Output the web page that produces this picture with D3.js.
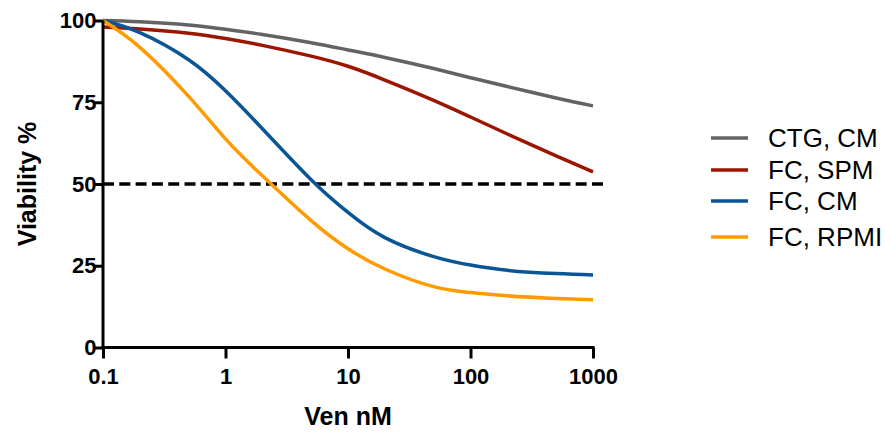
<!DOCTYPE html>
<html>
<head>
<meta charset="utf-8">
<script src="https://cdn.jsdelivr.net/npm/d3@7"></script>
<style>
  html, body { margin: 0; padding: 0; background: #fff; }
  svg { display: block; }
  text { font-family: "Liberation Sans", Arial, Helvetica, sans-serif; }
</style>
</head>
<body>
<svg id="chart" width="885" height="432"></svg>
<script>
// ---- data ----
const doses = [0.1, 0.2, 0.5, 1, 2, 5, 10, 20, 50, 100, 200, 500, 1000];
const seriesNames = ["CTG, CM", "FC, SPM", "FC, CM", "FC, RPMI"];
const ctgCM   = [100, 99.6, 98.6, 97.3, 95.7, 93.2, 91.0, 88.7, 85.3, 82.5, 79.8, 76.3, 73.9];
const fcSPM   = [98.0, 97.4, 96.1, 94.5, 92.4, 89.1, 86.0, 81.8, 75.6, 70.5, 65.3, 58.6, 53.7];
const fcCM    = [100, 96.3, 88.0, 78.5, 66.9, 51.3, 41.3, 33.6, 27.8, 25.2, 23.6, 22.6, 22.2];
const fcRPMI  = [100, 91.8, 76.8, 63.8, 52.5, 38.8, 30.2, 24.0, 18.6, 16.8, 15.8, 15.0, 14.6];
const yTicks = [0, 25, 50, 75, 100];
const xTicks = [0.1, 1, 10, 100, 1000];
const xTickLabels = ["0.1", "1", "10", "100", "1000"];
const refLevel = 50;
const xTitle = "Ven nM";
const yTitle = "Viability %";

const colors = ["#636363", "#9b1500", "#0a5596", "#ff9b00"];
const seriesValues = [ctgCM, fcSPM, fcCM, fcRPMI];

// ---- layout ----
const svg = d3.select("#chart");
const x = d3.scaleLog().domain([0.1, 1000]).range([103, 593]);
const y = d3.scaleLinear().domain([0, 100]).range([347.5, 20.5]);

// reference dashed line
svg.append("line")
  .attr("x1", x(0.1)).attr("x2", 607)
  .attr("y1", y(refLevel)).attr("y2", y(refLevel))
  .attr("stroke", "#000").attr("stroke-width", 3.3)
  .attr("stroke-dasharray", "11,5.3");

// curves
const line = d3.line()
  .x(d => x(d[0]))
  .y(d => y(d[1]))
  .curve(d3.curveNatural);

seriesValues.forEach((vals, i) => {
  svg.append("path")
    .datum(doses.map((d, j) => [d, vals[j]]))
    .attr("fill", "none")
    .attr("stroke", colors[i])
    .attr("stroke-width", 3.5)
    .attr("stroke-linecap", "butt")
    .attr("d", line);
});

// axes
const yAxis = d3.axisLeft(y).tickValues(yTicks).tickSize(8).tickSizeOuter(0).tickPadding(-1.5);
const xAxis = d3.axisBottom(x).tickValues(xTicks).tickSize(11).tickSizeOuter(0).tickPadding(10)
  .tickFormat((d, i) => xTickLabels[i]);

const gy = svg.append("g").attr("transform", `translate(${x(0.1)},0)`).call(yAxis);
const gx = svg.append("g").attr("transform", `translate(0,${y(0)})`).call(xAxis);

[gx, gy].forEach(g => {
  g.select(".domain").attr("stroke", "#000").attr("stroke-width", 3);
  g.selectAll(".tick line").attr("stroke", "#000").attr("stroke-width", 3);
  g.selectAll(".tick text")
    .attr("fill", "#000")
    .style("font-family", '"Liberation Sans", Arial, sans-serif')
    .style("font-weight", "bold")
    .style("font-size", "22px");
});
gx.select(".domain").attr("d", `M${x(0.1) - 1.5},0H${x(1000) + 1.5}`);
gy.select(".domain").attr("d", `M0,${y(0) + 1.5}V${y(100)}`);

// axis titles
svg.append("text")
  .attr("x", (x(0.1) + x(1000)) / 2)
  .attr("y", 425)
  .attr("text-anchor", "middle")
  .style("font-weight", "bold")
  .style("font-size", "25px")
  .text(xTitle);

svg.append("text")
  .attr("transform", `translate(36,${(y(0) + y(100)) / 2}) rotate(-90)`)
  .attr("text-anchor", "middle")
  .style("font-weight", "bold")
  .style("font-size", "25px")
  .text(yTitle);

// legend
const legendY = [138, 170, 201, 237];
const lg = svg.append("g");
seriesNames.forEach((name, i) => {
  lg.append("line")
    .attr("x1", 711).attr("x2", 748)
    .attr("y1", legendY[i]).attr("y2", legendY[i])
    .attr("stroke", colors[i]).attr("stroke-width", 3.5);
  lg.append("text")
    .attr("x", 768)
    .attr("y", legendY[i])
    .attr("dy", "0.35em")
    .style("font-size", "26px")
    .attr("fill", "#000")
    .text(name);
});
</script>
</body>
</html>
